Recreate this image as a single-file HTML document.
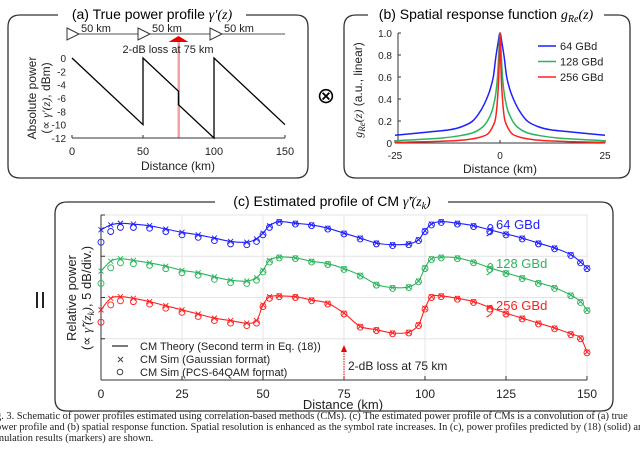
<!DOCTYPE html>
<html><head><meta charset="utf-8"><style>
body{margin:0;background:#fff;width:640px;height:451px;overflow:hidden;font-family:"Liberation Sans",sans-serif}
svg text{font-family:"Liberation Sans",sans-serif}
.cap{position:absolute;left:-4px;top:411px;width:680px;font-family:"Liberation Serif",serif;font-size:10.4px;line-height:11px;color:#222;white-space:nowrap}
</style></head><body>
<svg id="fig" width="640" height="451" style="position:absolute;left:0;top:0" xmlns="http://www.w3.org/2000/svg">
<g fill="none" stroke="#333" stroke-width="1.3">
<path d="M58 15 H20 Q8 15 8 27 V166 Q8 178 20 178 H296 Q308 178 308 166 V27 Q308 15 296 15 H246"/>
<path d="M368 15 H356 Q344 15 344 27 V166 Q344 178 356 178 H618 Q630 178 630 166 V27 Q630 15 618 15 H604"/>
<path d="M215 202 H67 Q55 202 55 214 V399 Q55 411 67 411 H601 Q613 411 613 399 V214 Q613 202 601 202 H448"/>
</g>
<text x="152" y="19" font-size="14" text-anchor="middle">(a) True power profile <tspan font-family="Liberation Serif" font-style="italic">γ′(z)</tspan></text>
<text x="486" y="19" font-size="14" text-anchor="middle">(b) Spatial response function <tspan font-family="Liberation Serif" font-style="italic">g<tspan font-size="10" dy="3">Re</tspan><tspan dy="-3">(z)</tspan></tspan></text>
<text x="332" y="206" font-size="14" text-anchor="middle">(c) Estimated profile of CM <tspan font-family="Liberation Serif" font-style="italic">γ̃′(z<tspan font-size="10" dy="3">k</tspan><tspan dy="-3">)</tspan></tspan></text>
<text x="326" y="103" font-size="22" text-anchor="middle">⊗</text>
<g stroke="#222" stroke-width="2"><line x1="37" y1="292" x2="37" y2="308"/><line x1="43" y1="292" x2="43" y2="308"/></g>
<g id="pa"></g>
<g id="pb"></g>
<g id="pc"></g>
</svg>
<div class="cap">g. 3. Schematic of power profiles estimated using correlation-based methods (CMs). (c) The estimated power profile of CMs is a convolution of (a) true<br>ower profile and (b) spatial response function. Spatial resolution is enhanced as the symbol rate increases. In (c), power profiles predicted by (18) (solid) and<br>mulation results (markers) are shown.</div>
<script>
const NS='http://www.w3.org/2000/svg';
const aDist=[0,50,50,75,75,100,100,150];
const aPower=[0,-10,0,-5,-7,-12,0,-10];
const aYTicks=[0,-2,-4,-6,-8,-10,-12];
const aXTicks=[0,50,100,150];
const b64z=[0,0.5,1,1.6,2.4,3.2,4.5,6.5,9,12,17,25];
const b64v=[1,0.9,0.78,0.6,0.48,0.4,0.3,0.2,0.15,0.12,0.1,0.07];
const b128z=[0,0.3,0.6,1,1.5,2,3,4,6,9,14,25];
const b128v=[1,0.8,0.6,0.45,0.35,0.28,0.2,0.15,0.1,0.07,0.045,0.02];
const b256z=[0,0.15,0.3,0.5,0.8,1.2,2,3,5,8,14,25];
const b256v=[1,0.8,0.6,0.45,0.3,0.2,0.13,0.08,0.05,0.03,0.015,0.005];
const bYTicks=[0,0.2,0.4,0.6,0.8,1.0];
const bXTicks=[-25,0,25];
const cDist=[0,3,6,10,15,20,25,30,35,40,45,48,50,52,55,60,65,70,75,80,85,90,95,98,100,102,105,110,115,120,125,130,135,140,145,148,150];
const c64=[-1.8,-1.2,-1.0,-1.1,-1.3,-1.7,-2.1,-2.4,-2.8,-3.2,-3.3,-2.9,-2.2,-1.3,-0.8,-1.0,-1.2,-1.6,-2.2,-2.8,-3.4,-3.6,-3.5,-3.0,-1.9,-1.1,-0.8,-1.0,-1.3,-1.8,-2.3,-2.8,-3.4,-4.0,-4.8,-5.7,-6.4];
const c128=[-6.8,-5.6,-5.3,-5.5,-5.8,-6.2,-6.7,-7.0,-7.5,-7.9,-8.0,-7.6,-6.7,-5.5,-5.1,-5.2,-5.6,-5.9,-6.5,-7.3,-8.4,-8.8,-8.7,-8.0,-6.4,-5.3,-5.1,-5.2,-5.7,-6.4,-7.0,-7.6,-8.2,-8.8,-9.7,-10.5,-11.5];
const c256=[-11.5,-10.1,-9.9,-10.1,-10.5,-11.0,-11.5,-12.0,-12.5,-12.8,-13.1,-12.8,-10.9,-9.9,-9.8,-9.9,-10.3,-10.7,-11.9,-13.5,-13.9,-14.3,-14.2,-13.3,-11.3,-9.9,-9.8,-10.1,-10.5,-11.2,-11.9,-12.5,-13.1,-13.7,-14.4,-14.9,-16.6];
const cPcsOffset64=[-1.5,-0.8,-0.5,-0.4,-0.3,-0.3,-0.3,-0.3,-0.3,-0.3,-0.3,-0.3,-0.2,-0.2,-0.1,-0.1,-0.1,-0.1,-0.1,-0.1,-0.1,-0.1,-0.1,-0.1,-0.1,-0.1,-0.1,-0.1,-0.1,-0.2,-0.1,-0.1,-0.1,-0.1,-0.1,-0.1,-0.1];
const cXTicks=[0,25,50,75,100,125,150];
const cYGrid=[0,-5,-10,-15,-20];

function el(tag,attrs,parent){const e=document.createElementNS(NS,tag);for(const k in attrs)e.setAttribute(k,attrs[k]);parent.appendChild(e);return e;}
function txt(parent,x,y,s,size,anchor,fill){const t=el('text',{x:x,y:y,'font-size':size,'text-anchor':anchor||'middle',fill:fill||'#222'},parent);t.textContent=s;return t;}
function smooth(pts){let d='M'+pts[0][0]+' '+pts[0][1];for(let i=0;i<pts.length-1;i++){const p0=pts[Math.max(i-1,0)],p1=pts[i],p2=pts[i+1],p3=pts[Math.min(i+2,pts.length-1)];const c1=[p1[0]+(p2[0]-p0[0])/6,p1[1]+(p2[1]-p0[1])/6],c2=[p2[0]-(p3[0]-p1[0])/6,p2[1]-(p3[1]-p1[1])/6];d+=` C${c1[0].toFixed(1)} ${c1[1].toFixed(1)} ${c2[0].toFixed(1)} ${c2[1].toFixed(1)} ${p2[0].toFixed(1)} ${p2[1].toFixed(1)}`;}return d;}

(function(){
const g=document.getElementById('pa');
const X=d=>72+d*(213/150), Y=v=>58+(-v)*(80/12);
const chain=el('g',{},g);


el('line',{x1:67,y1:34,x2:285,y2:34,stroke:'#555','stroke-width':1},chain);
[67,138,210].forEach(x=>{const p=el('path',{d:`M${x} 28 L${x+12} 34 L${x} 40 Z`,fill:'#fff',stroke:'#333'},chain);


const t=txt(chain,x+29,32,'50 km',11);

});
const rl=el('rect',{x:X(75)-1,y:40,width:2.5,height:Y(-12)-40,fill:'#f7a0a0'},g);


const ar=el('path',{d:`M${X(75)-10} 42 L${X(75)} 36 L${X(75)+10} 42 Z`,fill:'#e00'},g);


const lt=txt(g,168,53,'2-dB loss at 75 km',11);


const ax=el('line',{x1:72,y1:Y(-12),x2:285,y2:Y(-12),stroke:'#333'},g);


aXTicks.forEach(t=>{el('line',{x1:X(t),y1:Y(-12),x2:X(t),y2:Y(-12)-3,stroke:'#333'},g);
const l=txt(g,X(t),155,String(t),11);

});
aYTicks.forEach(t=>{const l=txt(g,66,Y(t)+4,String(t),10,'end');

});
const xt=txt(g,178,170,'Distance (km)',12);


const yt=el('text',{transform:'translate(36,98) rotate(-90)','font-size':12,'text-anchor':'middle',fill:'#222'},g);


yt.innerHTML='<tspan x="0" dy="0">Absolute power</tspan><tspan x="0" dy="14">(∝ <tspan font-family="Liberation Serif" font-style="italic">γ′(z)</tspan>, dBm)</tspan>';
const pts=aDist.map((d,i)=>X(d)+','+Y(aPower[i])).join(' ');
const pl=el('polyline',{points:pts,fill:'none',stroke:'#000','stroke-width':1.3},g);


})();

(function(){
const g=document.getElementById('pb');
const X=z=>500+z*(105/25), Y=v=>143-v*110;
const xa=el('line',{x1:X(-25),y1:Y(0),x2:X(25),y2:Y(0),stroke:'#333'},g);


const ya=el('line',{x1:398,y1:Y(0),x2:398,y2:Y(1),stroke:'#333'},g);


bXTicks.forEach(t=>{el('line',{x1:X(t),y1:Y(0),x2:X(t),y2:Y(0)-3,stroke:'#333'},g);
const l=txt(g,X(t),159,String(t),10);

});
bYTicks.forEach(t=>{el('line',{x1:398,y1:Y(t),x2:401,y2:Y(t),stroke:'#333'},g);
const l=txt(g,392,Y(t)+4,t===0?'0':t.toFixed(1),10,'end');

});
const xt=txt(g,500,173,'Distance (km)',12);


const yt=el('text',{transform:'translate(362,90) rotate(-90)','font-size':12,'text-anchor':'middle',fill:'#222'},g);


yt.innerHTML='<tspan font-family="Liberation Serif" font-style="italic">g<tspan font-size="9" dy="3">Re</tspan><tspan dy="-3">(z)</tspan></tspan> (a.u., linear)';
[[b64z,b64v,'#1f1fff','64 GBd'],[b128z,b128v,'#2db55d','128 GBd'],[b256z,b256v,'#ff2020','256 GBd']].forEach((s,k)=>{
 const zs=s[0].slice().reverse().map(z=>-z).concat(s[0].slice(1));
 const vs=s[1].slice().reverse().concat(s[1].slice(1));
 const p=el('path',{d:smooth(zs.map((z,i)=>[X(z),Y(vs[i])])),fill:'none',stroke:s[2],'stroke-width':1.5},g);
 
 
 const ly=46+k*15.5;
 const le=el('line',{x1:538,y1:ly,x2:556,y2:ly,stroke:s[2],'stroke-width':1.5},g);
 
 
 const lt=txt(g,560,ly+4,s[3],11,'start');
 
 
});
})();

(function(){
const g=document.getElementById('pc');
const X=d=>101+d*(486/150), Y=v=>215-v*(165/20);
cYGrid.forEach(v=>{const l=el('line',{x1:X(0),y1:Y(v),x2:X(150),y2:Y(v),stroke:'#e4e4e4'},g);

});
cXTicks.forEach(t=>{const l=el('line',{x1:X(t),y1:Y(0),x2:X(t),y2:Y(-20),stroke:'#e4e4e4'},g);


el('line',{x1:X(t),y1:Y(-20),x2:X(t),y2:Y(-20)-4,stroke:'#333'},g);
const tl=txt(g,X(t),398,String(t),12);

});
cYGrid.forEach(v=>el('line',{x1:X(0),y1:Y(v),x2:X(0)+4,y2:Y(v),stroke:'#333'},g));
const ya=el('line',{x1:X(0),y1:Y(0),x2:X(0),y2:Y(-20),stroke:'#333'},g);


const xa=el('line',{x1:X(0),y1:Y(-20),x2:X(150),y2:Y(-20),stroke:'#333'},g);


const xt=txt(g,343,409,'Distance (km)',13);


const yt=el('text',{transform:'translate(76,298) rotate(-90)','font-size':13,'text-anchor':'middle',fill:'#222'},g);


yt.innerHTML='<tspan x="0" dy="0">Relative power</tspan><tspan x="0" dy="15">(∝ <tspan font-family="Liberation Serif" font-style="italic">γ̃′(z<tspan font-size="9" dy="3">k</tspan><tspan dy="-3">)</tspan></tspan>, 5 dB/div.)</tspan>';
[[c64,'#1f1fff','64 GBd',224],[c128,'#2db55d','128 GBd',263],[c256,'#ff2020','256 GBd',305]].forEach((s,k)=>{
 const p=el('path',{d:smooth(cDist.map((d,i)=>[X(d),Y(s[0][i])])),fill:'none',stroke:s[1],'stroke-width':1.1},g);
 
 
 cDist.forEach((d,i)=>{
  const x=X(d),y=Y(s[0][i]);
  const m=el('path',{d:`M${x-2.5} ${y-2.5} L${x+2.5} ${y+2.5} M${x-2.5} ${y+2.5} L${x+2.5} ${y-2.5}`,stroke:s[1],'stroke-width':0.9},g);
  
  
  const c=el('circle',{cx:x,cy:Y(s[0][i]+cPcsOffset64[i]),r:3,fill:'none',stroke:s[1],'stroke-width':0.9},g);
  
  
 });
 const lp=el('path',{d:`M${X(119)} ${s[3]+12} q8 -4 6 -10 q-3 -4 -5 2`,fill:'none',stroke:s[1],'stroke-width':1},g);
 
 
 const lt=txt(g,496,s[3]+5,s[2],13,'start',s[1]);
 
 
});
const lg=el('g',{},g);


el('line',{x1:112,y1:346,x2:128,y2:346,stroke:'#222','stroke-width':1.2},lg);
txt(lg,140,350,'CM Theory (Second term in Eq. (18))',11,'start');
el('path',{d:'M118 357 L123 362 M118 362 L123 357',stroke:'#444'},lg);
txt(lg,140,363,'CM Sim (Gaussian format)',11,'start');
el('circle',{cx:120,cy:372,r:2.8,fill:'none',stroke:'#444'},lg);
txt(lg,140,376,'CM Sim (PCS-64QAM format)',11,'start');
const la=el('line',{x1:X(75),y1:Y(-20),x2:X(75),y2:350,stroke:'#e00','stroke-width':1,'stroke-dasharray':'1.5 1'},g);


el('path',{d:`M${X(75)-3} 352 L${X(75)} 345 L${X(75)+3} 352 Z`,fill:'#e00'},g);
const ll=txt(g,X(75)+4,370,'2-dB loss at 75 km',12,'start');


})();
</script>
</body></html>
